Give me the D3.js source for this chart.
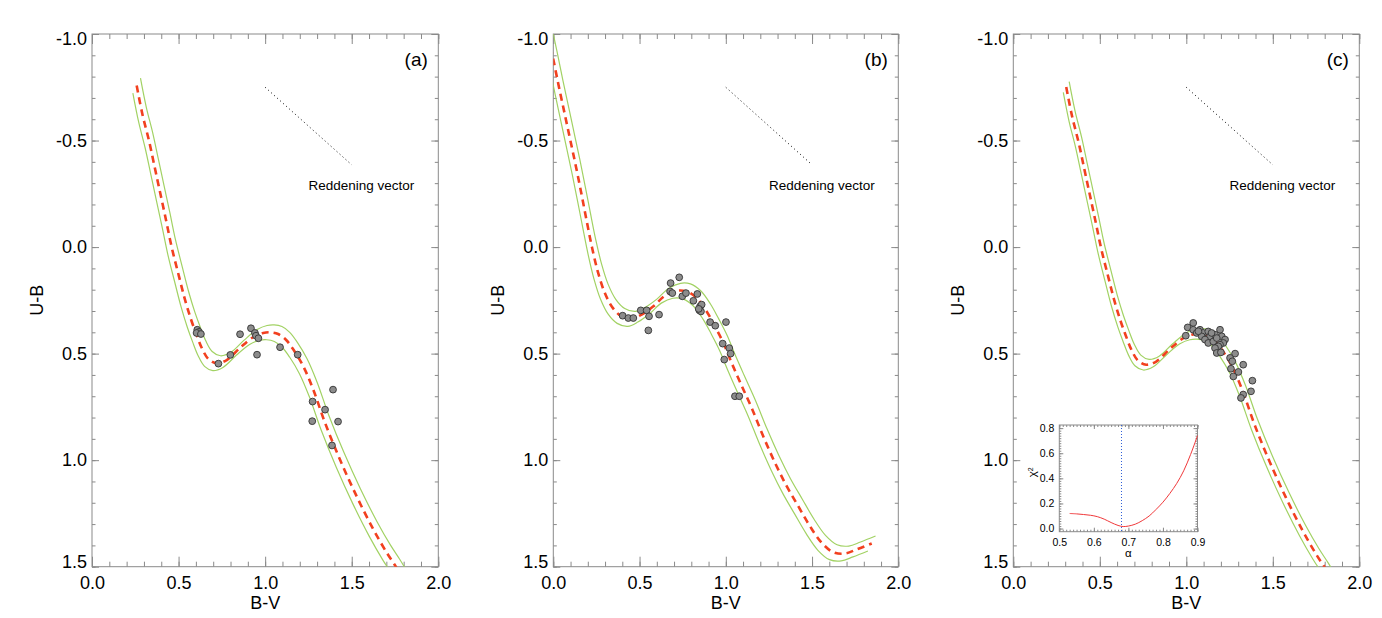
<!DOCTYPE html>
<html>
<head>
<meta charset="utf-8">
<script src="https://cdn.jsdelivr.net/npm/d3@7"></script>
<style>
  body { margin: 0; background: #fff; }
  svg text { font-family: "Liberation Sans", Arial, Helvetica, sans-serif; }
</style>
</head>
<body>
<svg id="fig" width="1382" height="618"></svg>
<script>
// axis ticks
const bvTicks = [0.0, 0.5, 1.0, 1.5, 2.0];
const ubTicks = [-1.0, -0.5, 0.0, 0.5, 1.0, 1.5];
const alphaTicks = [0.5, 0.6, 0.7, 0.8, 0.9];
const chiTicks = [0.0, 0.2, 0.4, 0.6, 0.8];

// (a) reddened intrinsic sequence (red dashed) and its two limits (green)
const zamsA = [[0.258,-0.758],[0.292,-0.62],[0.329,-0.50],[0.362,-0.375],[0.395,-0.25],[0.428,-0.125],
  [0.46,0.0],[0.50,0.13],[0.537,0.247],[0.572,0.34],[0.603,0.41],[0.635,0.475],[0.672,0.525],[0.72,0.545],
  [0.778,0.53],[0.855,0.473],[0.932,0.422],[0.989,0.403],[1.03,0.40],[1.075,0.408],[1.12,0.435],[1.163,0.481],
  [1.22,0.559],[1.278,0.669],[1.346,0.825],[1.432,0.997],[1.528,1.169],[1.625,1.325],[1.702,1.434],[1.755,1.50],[1.80,1.56]];
const upperA = [[0.280,-0.793],[0.314,-0.655],[0.351,-0.535],[0.384,-0.41],[0.417,-0.285],[0.45,-0.16],
  [0.482,-0.035],[0.522,0.095],[0.559,0.212],[0.594,0.305],[0.625,0.375],[0.657,0.44],[0.694,0.49],[0.742,0.51],
  [0.80,0.495],[0.877,0.438],[0.954,0.387],[1.011,0.368],[1.052,0.365],[1.097,0.373],[1.142,0.40],[1.185,0.446],
  [1.242,0.524],[1.30,0.634],[1.368,0.79],[1.454,0.962],[1.55,1.134],[1.647,1.29],[1.724,1.399],[1.777,1.465],[1.822,1.525]];
const lowerA = [[0.236,-0.723],[0.27,-0.585],[0.307,-0.465],[0.34,-0.34],[0.373,-0.215],[0.406,-0.09],
  [0.438,0.035],[0.478,0.165],[0.515,0.282],[0.55,0.375],[0.581,0.445],[0.613,0.51],[0.65,0.56],[0.698,0.58],
  [0.756,0.565],[0.833,0.508],[0.91,0.457],[0.967,0.438],[1.008,0.435],[1.053,0.443],[1.098,0.47],[1.141,0.516],
  [1.198,0.594],[1.256,0.704],[1.324,0.86],[1.41,1.032],[1.506,1.204],[1.603,1.36],[1.68,1.469],[1.733,1.535],[1.778,1.595]];
const starsA = [[0.608,0.388],[0.618,0.398],[0.604,0.403],[0.629,0.408],[0.730,0.547],[0.799,0.506],[0.855,0.409],
  [0.918,0.381],[0.941,0.403],[0.947,0.416],[0.961,0.428],[0.953,0.505],[1.086,0.470],[1.188,0.505],[1.392,0.669],
  [1.274,0.725],[1.346,0.763],[1.272,0.817],[1.421,0.819],[1.386,0.931]];

// (b)
const zamsB = [[-0.03,-0.995],[0.0,-0.881],[0.033,-0.75],[0.066,-0.625],[0.099,-0.5],[0.132,-0.375],[0.163,-0.25],
  [0.193,-0.125],[0.224,0.0],[0.258,0.115],[0.296,0.21],[0.34,0.28],[0.392,0.323],[0.454,0.337],[0.512,0.317],
  [0.58,0.278],[0.648,0.228],[0.715,0.205],[0.773,0.208],[0.831,0.239],[0.889,0.302],[0.937,0.372],[0.986,0.45],
  [1.034,0.544],[1.085,0.638],[1.15,0.755],[1.217,0.888],[1.285,1.012],[1.353,1.122],[1.42,1.216],[1.488,1.31],
  [1.556,1.388],[1.623,1.432],[1.691,1.438],[1.759,1.419],[1.846,1.391]];
const upperB = [[-0.008,-1.03],[0.022,-0.916],[0.055,-0.785],[0.088,-0.66],[0.121,-0.535],[0.154,-0.41],[0.185,-0.285],
  [0.215,-0.16],[0.246,-0.035],[0.28,0.08],[0.318,0.175],[0.362,0.245],[0.414,0.288],[0.476,0.302],[0.534,0.282],
  [0.602,0.243],[0.67,0.193],[0.737,0.17],[0.795,0.173],[0.853,0.204],[0.911,0.267],[0.959,0.337],[1.008,0.415],
  [1.056,0.509],[1.107,0.603],[1.172,0.72],[1.239,0.853],[1.307,0.977],[1.375,1.087],[1.442,1.181],[1.51,1.275],
  [1.578,1.353],[1.645,1.397],[1.713,1.403],[1.781,1.384],[1.868,1.356]];
const lowerB = [[-0.052,-0.96],[-0.022,-0.846],[0.011,-0.715],[0.044,-0.59],[0.077,-0.465],[0.11,-0.34],[0.141,-0.215],
  [0.171,-0.09],[0.202,0.035],[0.236,0.15],[0.274,0.245],[0.318,0.315],[0.37,0.358],[0.432,0.372],[0.49,0.352],
  [0.558,0.313],[0.626,0.263],[0.693,0.24],[0.751,0.243],[0.809,0.274],[0.867,0.337],[0.915,0.407],[0.964,0.485],
  [1.012,0.579],[1.063,0.673],[1.128,0.79],[1.195,0.923],[1.263,1.047],[1.331,1.157],[1.398,1.251],[1.466,1.345],
  [1.534,1.423],[1.601,1.467],[1.669,1.473],[1.737,1.454],[1.824,1.426]];
const starsB = [[0.730,0.142],[0.680,0.169],[0.677,0.208],[0.690,0.216],[0.748,0.231],[0.769,0.216],[0.835,0.220],
  [0.812,0.252],[0.851,0.278],[0.860,0.270],[0.847,0.297],[0.856,0.302],[0.843,0.290],[0.507,0.297],[0.541,0.297],
  [0.555,0.325],[0.613,0.317],[0.402,0.322],[0.435,0.333],[0.464,0.333],[0.551,0.391],[0.909,0.352],[0.939,0.369],
  [1.001,0.352],[0.982,0.453],[1.020,0.474],[1.028,0.500],[0.991,0.528],[1.053,0.700],[1.078,0.700]];

// (c)
const zamsC = [[0.306,-0.751],[0.34,-0.613],[0.377,-0.493],[0.41,-0.368],[0.443,-0.243],[0.476,-0.118],[0.508,0.007],
  [0.548,0.137],[0.585,0.254],[0.62,0.347],[0.651,0.417],[0.683,0.482],[0.72,0.532],[0.768,0.552],[0.826,0.537],
  [0.903,0.48],[0.98,0.429],[1.037,0.41],[1.078,0.407],[1.123,0.415],[1.168,0.442],[1.211,0.488],[1.268,0.566],
  [1.326,0.676],[1.394,0.832],[1.48,1.004],[1.576,1.176],[1.673,1.332],[1.75,1.441],[1.803,1.507],[1.848,1.567]];
const upperC = [[0.323,-0.776],[0.357,-0.638],[0.394,-0.518],[0.427,-0.393],[0.46,-0.268],[0.493,-0.143],[0.525,-0.018],
  [0.565,0.112],[0.602,0.229],[0.637,0.322],[0.668,0.392],[0.70,0.457],[0.737,0.507],[0.785,0.527],[0.843,0.512],
  [0.92,0.455],[0.997,0.404],[1.054,0.385],[1.095,0.382],[1.14,0.39],[1.185,0.417],[1.228,0.463],[1.285,0.541],
  [1.343,0.651],[1.411,0.807],[1.497,0.979],[1.593,1.151],[1.69,1.307],[1.767,1.416],[1.82,1.482],[1.865,1.542]];
const lowerC = [[0.289,-0.726],[0.323,-0.588],[0.36,-0.468],[0.393,-0.343],[0.426,-0.218],[0.459,-0.093],[0.491,0.032],
  [0.531,0.162],[0.568,0.279],[0.603,0.372],[0.634,0.442],[0.666,0.507],[0.703,0.557],[0.751,0.577],[0.809,0.562],
  [0.886,0.505],[0.963,0.454],[1.02,0.435],[1.061,0.432],[1.106,0.44],[1.151,0.467],[1.194,0.513],[1.251,0.591],
  [1.309,0.701],[1.377,0.857],[1.463,1.029],[1.559,1.201],[1.656,1.357],[1.733,1.466],[1.786,1.532],[1.831,1.592]];
const starsC = [[1.040,0.356],[1.008,0.377],[0.997,0.416],[1.040,0.388],[1.060,0.403],[1.079,0.388],[1.098,0.403],
  [1.089,0.419],[1.127,0.396],[1.137,0.419],[1.108,0.434],[1.127,0.450],[1.156,0.443],[1.166,0.411],[1.146,0.403],
  [1.195,0.388],[1.205,0.419],[1.224,0.434],[1.214,0.450],[1.195,0.458],[1.185,0.466],[1.166,0.474],[1.176,0.497],
  [1.200,0.494],[1.282,0.500],[1.253,0.520],[1.266,0.536],[1.329,0.552],[1.258,0.571],[1.301,0.586],[1.272,0.607],
  [1.382,0.627],[1.374,0.677],[1.329,0.692],[1.316,0.708],[1.176,0.427],[1.070,0.395]];

// reddening vector, same in every panel
const reddeningVector = [[1.0,-0.75],[1.5,-0.386]];

// inset of (c): chi-square against alpha
const alphaValues = [0.53,0.55,0.57,0.59,0.61,0.63,0.65,0.67,0.685,0.70,0.72,0.74,0.76,0.78,0.80,0.82,0.84,0.86,0.88,0.90];
const chiValues   = [0.12,0.117,0.112,0.106,0.095,0.075,0.048,0.025,0.016,0.02,0.035,0.063,0.10,0.152,0.21,0.28,0.36,0.46,0.59,0.74];
const alphaBest = 0.68;

const plotTop = 34, plotBottom = 566.7;
const panels = [
  {label: '(a)', left: 92,     right: 438.3,  zams: zamsA, upper: upperA, lower: lowerA, stars: starsA},
  {label: '(b)', left: 553.3,  right: 898.3,  zams: zamsB, upper: upperB, lower: lowerB, stars: starsB},
  {label: '(c)', left: 1013.3, right: 1359.3, zams: zamsC, upper: upperC, lower: lowerC, stars: starsC, inset: true}
];

const axisColor = '#8a8a8a';
const svg = d3.select('#fig');
const fmt = d => d.toFixed(1);

function styleAxis(sel, fontSize) {
  sel.select('.domain').remove();
  sel.selectAll('.tick line').attr('stroke', axisColor);
  sel.selectAll('.tick text').attr('fill', '#000').style('font-size', fontSize + 'px');
}

function frameAxes(g, x, y, w, h, o) {
  // major and minor ticks on all four sides, pointing inward
  g.append('g').attr('transform', `translate(0,${h})`)
    .call(d3.axisBottom(x).tickValues(o.xMinor).tickSize(-o.xMinorLen).tickFormat(''))
    .call(s => styleAxis(s, o.font));
  g.append('g').attr('transform', `translate(0,${h})`)
    .call(d3.axisBottom(x).tickValues(o.xMajor).tickSize(-o.xMajorLen).tickPadding(o.xPad).tickFormat(fmt))
    .call(s => styleAxis(s, o.font));
  g.append('g')
    .call(d3.axisTop(x).tickValues(o.xMinor).tickSize(-o.xMinorLen).tickFormat(''))
    .call(s => styleAxis(s, o.font));
  g.append('g')
    .call(d3.axisTop(x).tickValues(o.xMajor).tickSize(-o.xMajorLen).tickFormat(''))
    .call(s => styleAxis(s, o.font));
  g.append('g')
    .call(d3.axisLeft(y).tickValues(o.yMinor).tickSize(-o.yMinorLen).tickFormat(''))
    .call(s => styleAxis(s, o.font));
  const left = g.append('g')
    .call(d3.axisLeft(y).tickValues(o.yMajor).tickSize(-o.yMajorLen).tickPadding(o.yPad).tickFormat(fmt))
    .call(s => styleAxis(s, o.font));
  g.append('g').attr('transform', `translate(${w},0)`)
    .call(d3.axisRight(y).tickValues(o.yMinor).tickSize(-o.yMinorLen).tickFormat(''))
    .call(s => styleAxis(s, o.font));
  g.append('g').attr('transform', `translate(${w},0)`)
    .call(d3.axisRight(y).tickValues(o.yMajor).tickSize(-o.yMajorLen).tickFormat(''))
    .call(s => styleAxis(s, o.font));
  g.append('rect').attr('width', w).attr('height', h)
    .attr('fill', 'none').attr('stroke', axisColor).attr('stroke-width', 1);
  return left;
}

function drawPanel(p, i) {
  const w = p.right - p.left, h = plotBottom - plotTop;
  const g = svg.append('g').attr('transform', `translate(${p.left},${plotTop})`);
  const x = d3.scaleLinear().domain([0, 2]).range([0, w]);
  const y = d3.scaleLinear().domain([-1, 1.5]).range([0, h]);

  const left = frameAxes(g, x, y, w, h, {
    xMajor: bvTicks, xMinor: x.ticks(20), yMajor: ubTicks, yMinor: y.ticks(25),
    xMajorLen: 10, xMinorLen: 5, yMajorLen: 7, yMinorLen: 3.5, xPad: 10, yPad: 5, font: 18
  });
  // IDL keeps the end labels inside the frame
  left.selectAll('.tick text').attr('dy', d => d === -1 ? '0.57em' : d === 1.5 ? '0.07em' : '0.32em');

  const clipId = 'clip' + i;
  g.append('clipPath').attr('id', clipId).append('rect').attr('width', w).attr('height', h);
  const plot = g.append('g').attr('clip-path', `url(#${clipId})`);

  const line = d3.line().x(d => x(d[0])).y(d => y(d[1])).curve(d3.curveCatmullRom.alpha(0.5));
  [p.upper, p.lower].forEach(c => plot.append('path').attr('d', line(c))
    .attr('fill', 'none').attr('stroke', '#a2d264').attr('stroke-width', 1.2));
  plot.append('path').attr('d', line(p.zams))
    .attr('fill', 'none').attr('stroke', '#f2401f').attr('stroke-width', 2.6).attr('stroke-dasharray', '7,5');

  plot.selectAll('circle').data(p.stars).join('circle')
    .attr('cx', d => x(d[0])).attr('cy', d => y(d[1])).attr('r', 3.4)
    .attr('fill', '#8c8c8c').attr('stroke', '#333').attr('stroke-width', 0.9);

  g.append('path').attr('d', d3.line().x(d => x(d[0])).y(d => y(d[1]))(reddeningVector))
    .attr('fill', 'none').attr('stroke', '#000').attr('stroke-width', 1).attr('stroke-dasharray', '1,3');
  g.append('text').attr('x', x(1.25)).attr('y', y(-0.268)).style('font-size', '13.5px').text('Reddening vector');

  g.append('text').attr('x', w - 10.5).attr('y', 32).attr('text-anchor', 'end')
    .style('font-size', '19px').text(p.label);

  g.append('text').attr('x', w / 2).attr('y', h + 42.5).attr('text-anchor', 'middle')
    .style('font-size', '18px').text('B-V');
  g.append('text').attr('transform', `translate(-49.5,${h / 2}) rotate(-90)`).attr('text-anchor', 'middle')
    .style('font-size', '18px').text('U-B');

  if (p.inset) drawInset(g);
}

function drawInset(parent) {
  const iw = 138.2, ih = 106.7;
  const g = parent.append('g').attr('transform', 'translate(46,391)');
  g.append('rect').attr('width', iw).attr('height', ih).attr('fill', '#fff');
  const a = d3.scaleLinear().domain([0.5, 0.9]).range([0, iw]);
  const c = d3.scaleLinear().domain([-0.025, 0.825]).range([ih, 0]);

  frameAxes(g, a, c, iw, ih, {
    xMajor: alphaTicks, xMinor: a.ticks(40), yMajor: chiTicks, yMinor: d3.range(0, 0.81, 0.02),
    xMajorLen: 4, xMinorLen: 2, yMajorLen: 4, yMinorLen: 2, xPad: 7, yPad: 5, font: 10.5
  });

  g.append('line').attr('x1', a(alphaBest)).attr('x2', a(alphaBest)).attr('y1', 0).attr('y2', ih)
    .attr('stroke', '#2f5fd8').attr('stroke-width', 1).attr('stroke-dasharray', '1,2');

  const chiLine = d3.line().x((d, k) => a(alphaValues[k])).y(d => c(d)).curve(d3.curveCatmullRom.alpha(0.5));
  g.append('path').attr('d', chiLine(chiValues))
    .attr('fill', 'none').attr('stroke', '#f0383a').attr('stroke-width', 1);

  g.append('text').attr('x', iw / 2).attr('y', ih + 25).attr('text-anchor', 'middle')
    .style('font-size', '11.5px').text('α');
  const t = g.append('text').attr('transform', `translate(-23,${ih / 2 - 6}) rotate(-90)`)
    .attr('text-anchor', 'middle').style('font-size', '11.5px');
  t.append('tspan').text('χ');
  t.append('tspan').attr('dy', '-0.45em').style('font-size', '7px').text('2');
}

panels.forEach(drawPanel);
</script>
</body>
</html>
